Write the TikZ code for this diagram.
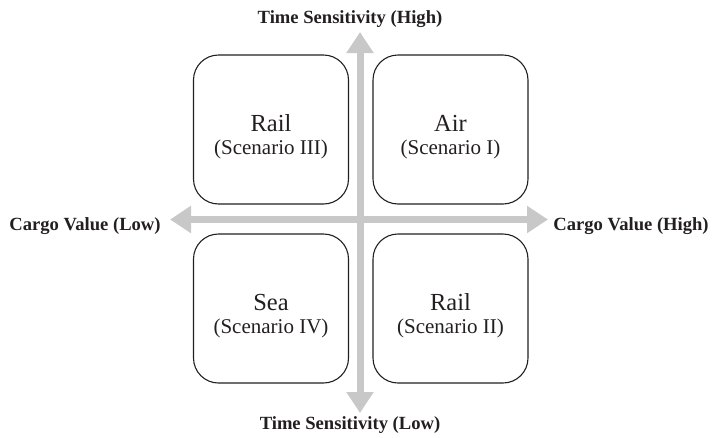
\documentclass[tikz,border=0pt]{standalone}
\usepackage{fontspec}
\setmainfont{Liberation Serif}
\usetikzlibrary{arrows.meta}
\definecolor{axisgray}{RGB}{200,200,201}
\definecolor{inkgray}{RGB}{35,31,32}

\begin{document}
\begin{tikzpicture}[x=1pt,y=-1pt,>={Triangle[width=26pt,length=21pt]},
  quad/.style={draw=inkgray,line width=1.1pt,rounded corners=25pt,minimum width=155pt,minimum height=149pt,inner sep=0pt},
  modetext/.style={text=inkgray,anchor=base,font=\fontsize{24.5}{26}\selectfont},
  scntext/.style={text=inkgray,anchor=base,font=\fontsize{21}{23}\selectfont},
  axislabel/.style={text=inkgray,anchor=base,font=\fontsize{18.6}{20}\selectfont\bfseries}]
\useasboundingbox (0,0) rectangle (713,437);
% the two axes
\coordinate (axN) at (360,32); \coordinate (axS) at (360,413);
\coordinate (axW) at (170,219.5); \coordinate (axE) at (548,219.5);
\draw[<->,line width=7pt,axisgray] (axW)--(axE);
\draw[<->,line width=7pt,axisgray] (axS)--(axN);
% quadrants
\foreach \n/\x/\y/\m/\s in {tl/271/129.5/Rail/III,tr/450.5/129.5/Air/I,bl/271/308.5/Sea/IV,br/450.5/308.5/Rail/II}{
  \node[quad] (\n) at (\x,\y) {};
  \node[modetext] (\n-mode) at (\x,\y+1.5) {\m};
  \node[scntext] (\n-scn) at (\x,\y+24.5) {(Scenario \s)};
}
\node[axislabel] (lblN) at (350,23) {Time Sensitivity (High)};
\node[axislabel] (lblS) at (350,429) {Time Sensitivity (Low)};
\node[axislabel] (lblW) at (85,230) {Cargo Value (Low)};
\node[axislabel] (lblE) at (631,230) {Cargo Value (High)};
\end{tikzpicture}
\end{document}
